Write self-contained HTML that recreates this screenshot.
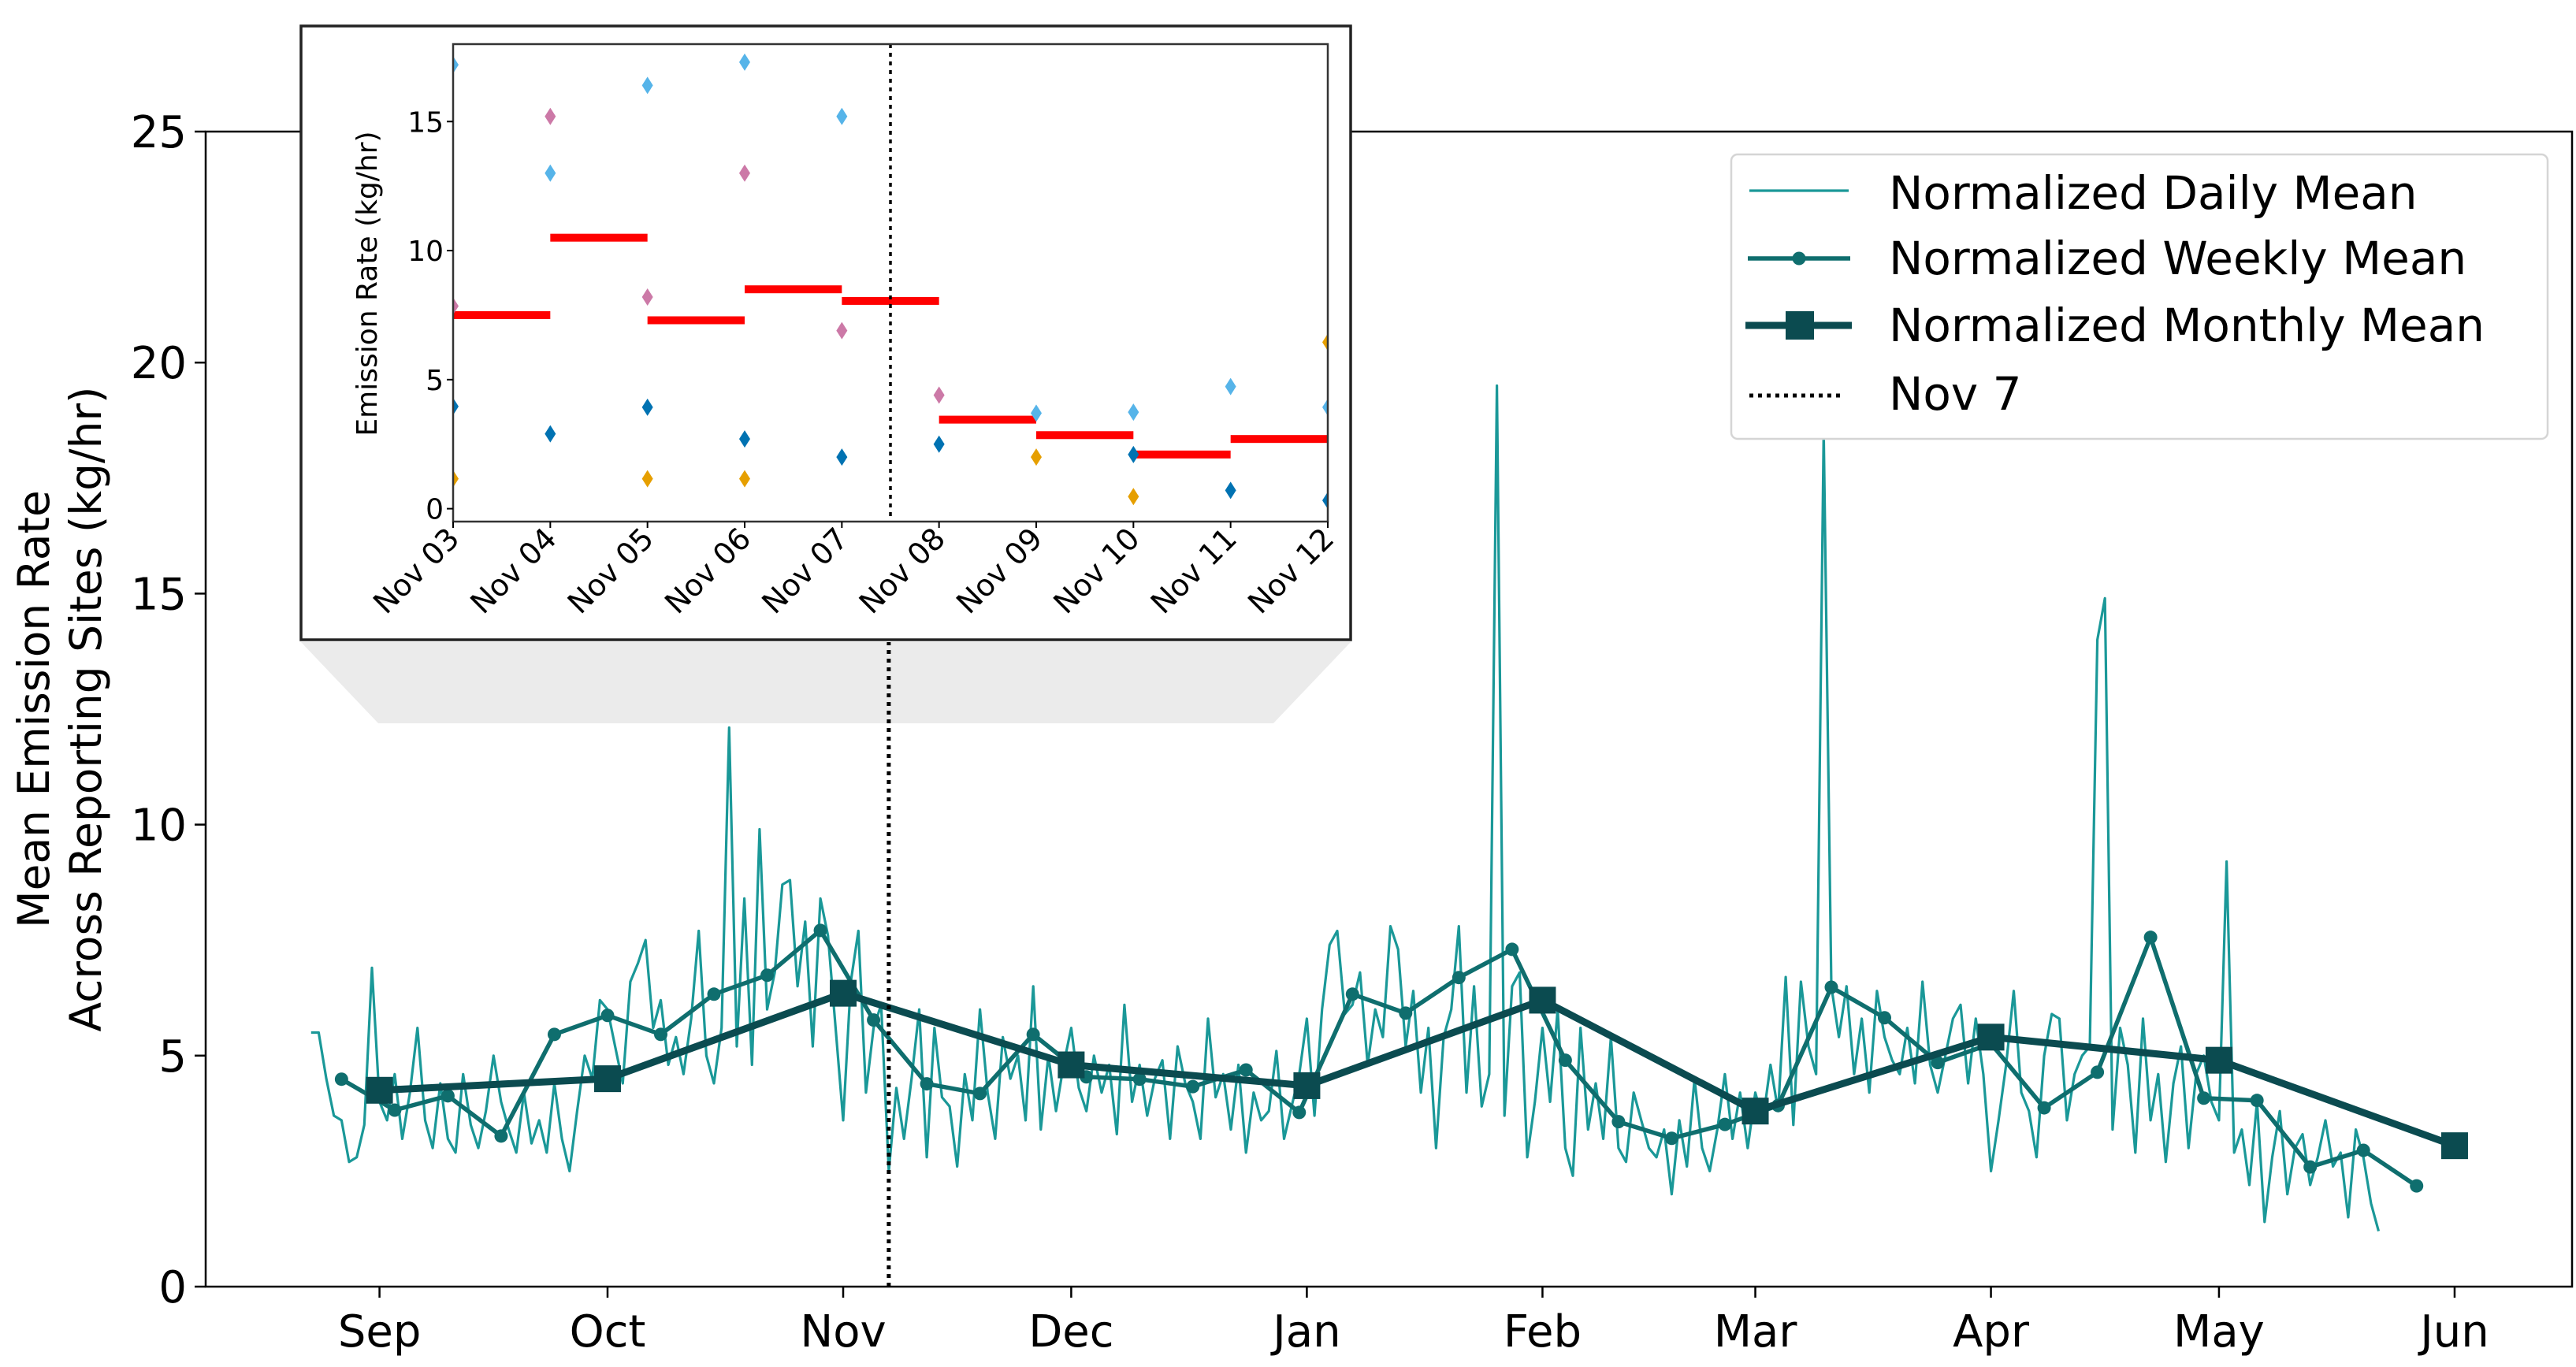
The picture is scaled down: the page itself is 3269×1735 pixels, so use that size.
<!DOCTYPE html>
<html><head><meta charset="utf-8"><style>
html,body{margin:0;padding:0;background:#fff;}
svg{display:block;font-family:"DejaVu Sans","Liberation Sans",sans-serif;}
</style></head><body>
<svg id="chart" xmlns="http://www.w3.org/2000/svg" width="3269" height="1735" viewBox="0 0 3269 1735">
<rect x="0" y="0" width="3269" height="1735" fill="#fff"/>
<g id="main"></g>
<g id="inset"></g>
<g id="legend"></g>
</svg>
<script>
// ---- main chart data (day index: 0 = Sep 1) ----
const monthLabels = ["Sep","Oct","Nov","Dec","Jan","Feb","Mar","Apr","May","Jun"];
const monthDays = [0,30,61,91,122,153,181,212,242,273];
const yTicks = [0,5,10,15,20,25];
const dailyStartDay = -9;
const dailyValues = [
5.5,5.5,4.5,3.7,3.6,2.7,2.8,3.5,6.9,4.0,
3.6,4.6,3.2,4.2,5.6,3.6,3.0,4.4,3.2,2.9,
4.6,3.5,3.0,3.8,5.0,4.0,3.4,2.9,4.2,3.1,
3.6,2.9,4.4,3.2,2.5,3.8,5.0,4.5,6.2,6.0,
5.2,4.4,6.6,7.0,7.5,5.6,6.2,4.8,5.4,4.6,
5.8,7.7,5.0,4.4,5.6,12.1,5.2,8.4,4.8,9.9,
6.0,6.8,8.7,8.8,6.5,7.9,5.2,8.4,7.6,5.6,
3.6,6.6,7.7,4.2,5.6,6.1,2.5,4.3,3.2,4.5,
6.0,2.8,5.6,4.1,3.9,2.6,4.6,3.6,6.0,4.2,
3.2,5.4,4.5,5.0,3.6,6.5,3.4,5.0,3.8,4.8,
5.6,4.3,3.8,5.0,4.2,4.8,3.3,6.1,4.0,4.8,
3.7,4.5,4.9,3.2,5.2,4.4,4.0,3.2,5.8,4.1,
4.6,3.4,4.8,2.9,4.2,3.6,3.8,5.1,3.2,3.9,
4.6,5.8,3.7,6.0,7.4,7.7,5.9,6.1,6.8,4.8,
6.0,5.4,7.8,7.3,5.2,6.4,4.2,5.6,3.0,5.4,
6.0,7.8,4.2,6.5,3.9,4.6,19.5,3.7,6.5,6.8,
2.8,4.0,5.6,4.0,6.0,3.0,2.4,5.6,3.4,4.4,
3.2,5.4,3.0,2.7,4.2,3.6,3.0,2.8,3.4,2.0,
3.6,2.6,4.5,3.0,2.5,3.4,4.6,3.2,4.2,3.0,
4.2,3.6,4.8,3.8,6.7,3.5,6.6,5.2,4.6,18.5,
6.5,5.4,6.5,4.6,5.8,4.2,6.4,5.4,4.9,4.6,
5.6,4.4,6.6,4.8,4.2,5.0,5.8,6.1,4.4,5.8,
4.6,2.5,3.6,4.8,6.4,4.2,3.8,2.8,5.0,5.9,
5.8,3.6,4.6,5.0,5.2,14.0,14.9,3.4,5.6,4.8,
2.9,5.8,3.6,4.6,2.7,4.4,5.2,3.0,4.6,5.0,
4.0,3.6,9.2,2.9,3.4,2.2,4.0,1.4,2.8,3.8,
2.0,3.0,3.3,2.2,2.8,3.6,2.6,2.9,1.5,3.4,
2.8,1.8,1.2];
const weeklyStartDay = -5;
const weeklyValues = [4.49,3.82,4.13,3.26,5.46,5.87,5.46,6.33,6.74,7.71,5.77,4.39,4.18,5.46,4.54,4.49,4.33,4.69,3.77,6.33,5.92,6.69,7.3,4.9,3.57,3.21,3.51,3.92,6.48,5.82,4.85,5.26,3.87,4.64,7.56,4.08,4.03,2.59,2.95,2.18];
const monthlyValues = [4.25,4.5,6.35,4.8,4.35,6.2,3.8,5.4,4.9,3.05];
const markerDay = 67;

// ---- inset data ----
const insetLabels = ["Nov 03","Nov 04","Nov 05","Nov 06","Nov 07","Nov 08","Nov 09","Nov 10","Nov 11","Nov 12"];
const insetYTicks = [0,5,10,15];
const insetMeans = [7.5,10.5,7.3,8.5,8.05,3.45,2.85,2.1,2.7];
const siteLightBlue = [17.2,13.0,16.4,17.3,15.2,null,3.7,3.74,4.73,3.93];
const sitePink = [7.85,15.2,8.2,13.0,6.9,4.4,null,null,null,null];
const siteDarkBlue = [3.96,2.9,3.93,2.7,2.0,2.5,null,2.1,0.71,0.32];
const siteOrange = [1.16,null,1.16,1.16,null,null,2.0,0.47,null,6.45];
const insetMarkerDay = 4.5;

const NS="http://www.w3.org/2000/svg";
function mk(parent,tag,attrs,text){const e=document.createElementNS(NS,tag);for(const k in attrs)e.setAttribute(k,attrs[k]);if(text!==undefined)e.textContent=text;parent.appendChild(e);return e;}

const L=261,R=3264,T=167,B=1633;
const x0=481.6, pxDay=9.646;
const X=d=>x0+d*pxDay;
const Y=v=>B-(v/25)*(B-T);
const main=document.getElementById('main');

yTicks.forEach(v=>{
  const t=mk(main,'line',{x1:L-14,x2:L,y1:Y(v),y2:Y(v),stroke:'#000','stroke-width':2.5});
  
  
  const lb=mk(main,'text',{x:L-24,y:Y(v)+20,'text-anchor':'end','font-size':56},String(v));
  
  
});
monthDays.forEach((d,i)=>{
  const t=mk(main,'line',{x1:X(d),x2:X(d),y1:B,y2:B+14,stroke:'#000','stroke-width':2.5});
  
  
  const lb=mk(main,'text',{x:X(d),y:B+76,'text-anchor':'middle','font-size':56},monthLabels[i]);
  
  
});
const yt=mk(main,'text',{transform:'translate(62,900) rotate(-90)','text-anchor':'middle','font-size':55},'Mean Emission Rate');


const yt2=mk(main,'text',{transform:'translate(128,900) rotate(-90)','text-anchor':'middle','font-size':55},'Across Reporting Sites (kg/hr)');



let dp=dailyValues.map((v,i)=>X(dailyStartDay+i).toFixed(1)+','+Y(v).toFixed(1)).join(' ');
const dl=mk(main,'polyline',{points:dp,fill:'none',stroke:'#1a9898','stroke-width':3.2,'stroke-linejoin':'round'});


let wp=weeklyValues.map((v,i)=>X(weeklyStartDay+7*i).toFixed(1)+','+Y(v).toFixed(1)).join(' ');
const wl=mk(main,'polyline',{points:wp,fill:'none',stroke:'#0f6e6e','stroke-width':5.5,'stroke-linejoin':'round'});


weeklyValues.forEach((v,i)=>{
  const c=mk(main,'circle',{cx:X(weeklyStartDay+7*i),cy:Y(v),r:8.5,fill:'#0f6e6e'});
  
  
});
let mp=monthlyValues.map((v,i)=>X(monthDays[i]).toFixed(1)+','+Y(v).toFixed(1)).join(' ');
const ml=mk(main,'polyline',{points:mp,fill:'none',stroke:'#0b4b50','stroke-width':9,'stroke-linejoin':'round'});


monthlyValues.forEach((v,i)=>{
  const s=mk(main,'rect',{x:X(monthDays[i])-17,y:Y(v)-17,width:34,height:34,fill:'#0b4b50'});
  
  
});
const tz=mk(main,'polygon',{points:'382,815 1714,815 1616,918 480,918',fill:'#ebebeb'});


const nl=mk(main,'line',{x1:X(markerDay),x2:X(markerDay),y1:B,y2:815,stroke:'#000','stroke-width':5,'stroke-dasharray':'5 6'});


const sp=mk(main,'rect',{x:L,y:T,width:R-L,height:B-T,fill:'none',stroke:'#000','stroke-width':2.5});



// inset
const ins=document.getElementById('inset');
const fr=mk(ins,'rect',{x:382,y:33,width:1332,height:779,fill:'#fff',stroke:'#222','stroke-width':3.5});


const IL=575,IR=1685,IT=56,IB=662;
const IX=d=>IL+d*(IR-IL)/9;
const IY=v=>IB-(v+0.5)/18.5*(IB-IT);
const clip=mk(ins,'clipPath',{id:'ic'});mk(clip,'rect',{x:IL,y:IT,width:IR-IL,height:IB-IT});
const ig=mk(ins,'g',{'clip-path':'url(#ic)'});
insetMeans.forEach((v,i)=>{
  const r=mk(ig,'rect',{x:IX(i),y:IY(v)-5,width:IX(i+1)-IX(i),height:10,fill:'#ff0000'});
  
  
});
function diamonds(arr,color,name){
  arr.forEach((v,i)=>{
    if(v===null)return;
    const x=IX(i),y=IY(v);
    const p=mk(ig,'polygon',{points:`${x},${y-11} ${x+7},${y} ${x},${y+11} ${x-7},${y}`,fill:color});
    
    
  });
}
diamonds(siteLightBlue,'#56b4e9','site-a-point');
diamonds(sitePink,'#cc79a7','site-b-point');
diamonds(siteDarkBlue,'#0072b2','site-c-point');
diamonds(siteOrange,'#e69f00','site-d-point');
const il=mk(ins,'line',{x1:IX(insetMarkerDay),x2:IX(insetMarkerDay),y1:IT,y2:IB,stroke:'#000','stroke-width':3.5,'stroke-dasharray':'5 6'});


const ia=mk(ins,'rect',{x:IL,y:IT,width:IR-IL,height:IB-IT,fill:'none',stroke:'#333','stroke-width':2.5});


insetYTicks.forEach(v=>{
  const t=mk(ins,'line',{x1:IL-8,x2:IL,y1:IY(v),y2:IY(v),stroke:'#000','stroke-width':2});
  
  
  const lb=mk(ins,'text',{x:IL-12,y:IY(v)+13,'text-anchor':'end','font-size':36},String(v));
  
  
});
insetLabels.forEach((s,i)=>{
  const t=mk(ins,'line',{x1:IX(i),x2:IX(i),y1:IB,y2:IB+8,stroke:'#000','stroke-width':2});
  
  
  const lb=mk(ins,'text',{transform:`translate(${IX(i)+10},${IB+24}) rotate(-45)`,'text-anchor':'end','font-size':38},s);
  
  
});
const iyt=mk(ins,'text',{transform:'translate(478,360) rotate(-90)','text-anchor':'middle','font-size':36},'Emission Rate (kg/hr)');



// legend
const lg=document.getElementById('legend');
const lb=mk(lg,'rect',{x:2197,y:196,width:1036,height:361,rx:8,fill:'#fff',stroke:'#d5d5d5','stroke-width':2.5});


const rows=[{t:'Normalized Daily Mean',y:265},{t:'Normalized Weekly Mean',y:348},{t:'Normalized Monthly Mean',y:433},{t:'Nov 7',y:520}];
rows.forEach((r,i)=>{
  const tx=mk(lg,'text',{x:2397,y:r.y,'font-size':58},r.t);
  
  
});
const cy=[242,328,413,502];
mk(lg,'line',{x1:2220,x2:2346,y1:cy[0],y2:cy[0],stroke:'#1a9898','stroke-width':3.2});
mk(lg,'line',{x1:2218,x2:2348,y1:cy[1],y2:cy[1],stroke:'#0f6e6e','stroke-width':5.5});
mk(lg,'circle',{cx:2283,cy:cy[1],r:8.5,fill:'#0f6e6e'});
mk(lg,'line',{x1:2215,x2:2350,y1:cy[2],y2:cy[2],stroke:'#0b4b50','stroke-width':9});
mk(lg,'rect',{x:2266,y:cy[2]-18,width:36,height:36,fill:'#0b4b50'});
mk(lg,'line',{x1:2220,x2:2335,y1:cy[3],y2:cy[3],stroke:'#000','stroke-width':5,'stroke-dasharray':'5 6'});
</script>
</body></html>
